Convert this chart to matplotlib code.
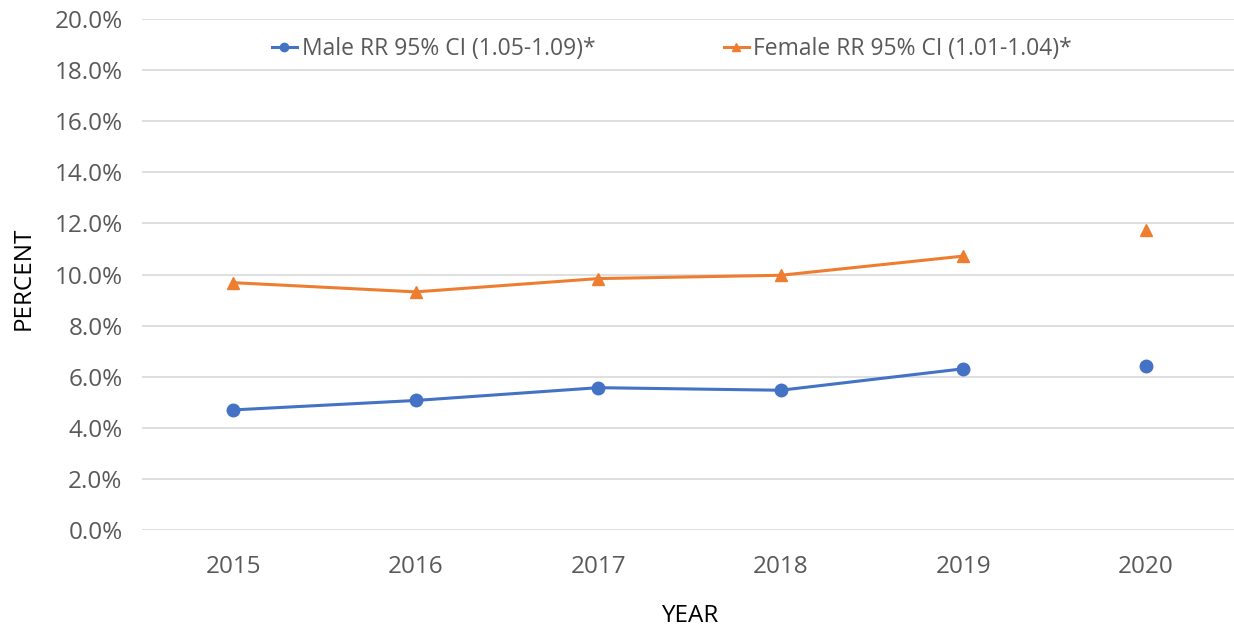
import matplotlib

matplotlib.use("Agg")
import matplotlib.pyplot as plt
from matplotlib.ticker import FuncFormatter

# ── 数据 ────────────────────────────────────────────────
years = ["2015", "2016", "2017", "2018", "2019", "2020"]
male = [4.7, 5.07, 5.57, 5.47, 6.31, 6.41]
female = [9.68, 9.32, 9.84, 9.97, 10.72, 11.76]
connected = 5  # 2020 没有连线

male_label = "Male RR 95% CI (1.05-1.09)*"
female_label = "Female RR 95% CI (1.01-1.04)*"

BLUE = "#4472C4"
ORANGE = "#ED7D31"
GRID = "#D9D9D9"
TICK = "#595959"

plt.rcParams["font.family"] = ["Open Sans", "DejaVu Sans"]

fig = plt.figure(figsize=(12.34, 6.31), dpi=100)
ax = fig.add_axes([142 / 1234, 1 - 530 / 631, (1237 - 142) / 1234, (530 - 19) / 631])

x = list(range(len(years)))

ax.plot(x[:connected], male[:connected], color=BLUE, lw=2.2, marker="o", ms=9,
        label=male_label)
ax.plot(x[connected:], male[connected:], color=BLUE, lw=0, marker="o", ms=9)
ax.plot(x[:connected], female[:connected], color=ORANGE, lw=2.2, marker="^", ms=8,
        label=female_label)
ax.plot(x[connected:], female[connected:], color=ORANGE, lw=0, marker="^", ms=8)

ax.set_xlim(-0.5, len(years) - 0.5)
ax.set_ylim(0, 20)
ax.set_yticks(range(0, 21, 2))
ax.yaxis.set_major_formatter(FuncFormatter(lambda v, _: f"{v:.1f}%"))
ax.set_xticks(x)
ax.set_xticklabels(years)

ax.grid(axis="y", color=GRID, lw=1.2)
ax.set_axisbelow(True)
for s in ax.spines.values():
    s.set_visible(False)
ax.tick_params(axis="both", length=0, labelsize=17.5, colors=TICK)
ax.tick_params(axis="y", pad=14)
ax.tick_params(axis="x", pad=18)

ax.set_ylabel("PERCENT", fontsize=17.5, color="black")
ax.yaxis.set_label_coords(-0.108, 0.493)
ax.yaxis.label.set_va("center")
ax.set_xlabel("YEAR", fontsize=17.5, color="black")
ax.xaxis.set_label_coords(0.5, -0.145)

leg = ax.legend(loc="upper center", bbox_to_anchor=(0.484, 1.005), ncol=2, frameon=False,
                fontsize=16.5, handlelength=1.1, handletextpad=0.2, columnspacing=5.6,
                labelcolor=TICK)
for h in leg.legend_handles:
    h.set_markersize(6)

fig.savefig("out.png", dpi=100)
